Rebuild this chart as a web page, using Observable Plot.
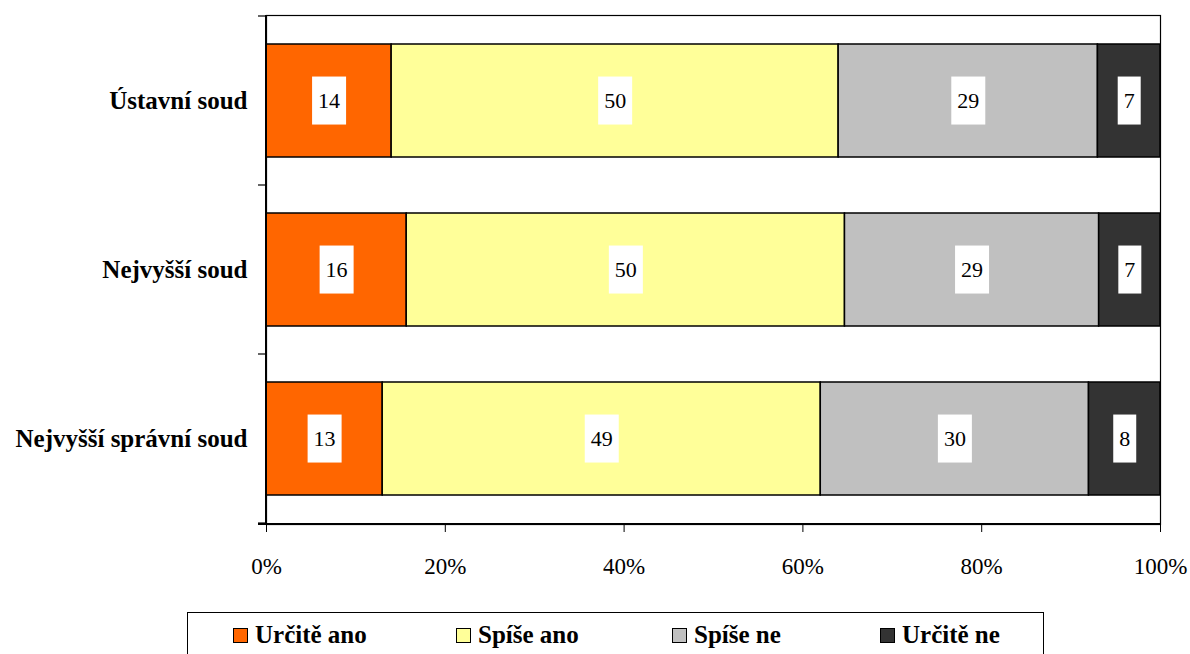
<!DOCTYPE html>
<html>
<head>
<meta charset="utf-8">
<script src="https://cdn.jsdelivr.net/npm/d3@7"></script>
<script src="https://cdn.jsdelivr.net/npm/@observablehq/plot@0.6"></script>
<style>
  html, body { margin: 0; padding: 0; background: #fff; }
  body { width: 1190px; height: 654px; overflow: hidden; }
  #chart svg { display: block; }
  #legend { position: relative; margin-left: 187px; margin-top: 12px; width: 857px; height: 46px; border: 1.5px solid #000; box-sizing: border-box; }
  .item { position: absolute; top: 8px; display: flex; align-items: center; }
  .sw { width: 13px; height: 13px; border: 1.5px solid #000; margin-right: 7px; }
</style>
</head>
<body style="font-family: 'Liberation Serif', serif;">
<div id="chart"></div>
<div id="legend" style="font-family: 'Liberation Serif', serif;"></div>
<script>
const courts = ["Ústavní soud", "Nejvyšší soud", "Nejvyšší správní soud"];
const answers = ["Určitě ano", "Spíše ano", "Spíše ne", "Určitě ne"];
const colors = ["#FF6600", "#FFFF99", "#C0C0C0", "#333333"];
const vUrciteAno = [14, 16, 13];
const vSpiseAno = [50, 50, 49];
const vSpiseNe = [29, 29, 30];
const vUrciteNe = [7, 7, 8];
const xTicks = [0, 0.2, 0.4, 0.6, 0.8, 1];

const series = [vUrciteAno, vSpiseAno, vSpiseNe, vUrciteNe];
const data = [];
courts.forEach((c, i) => answers.forEach((a, j) => data.push({court: c, answer: a, value: series[j][i]})));

const FONT = "'Liberation Serif', serif";
const W = 1190, H = 600, mT = 15, mB = H - 524, mL = 266, mR = 30;

const stackOpts = {x: "value", y: "court", z: "answer", order: answers, offset: "normalize"};

const chart = Plot.plot({
  width: W, height: H,
  marginTop: mT, marginBottom: mB, marginLeft: mL, marginRight: mR,
  style: "font-family: 'Liberation Serif', serif; font-size: 22px; color: #000; background: #fff;",
  x: {domain: [0, 1], ticks: xTicks, tickFormat: d => Math.round(d * 100) + "%", label: null},
  y: {domain: courts, paddingInner: 0.33, paddingOuter: 0.165, label: null},
  color: {domain: answers, range: colors},
  marks: [
    Plot.frame({stroke: "#000", strokeWidth: 1.2}),
    Plot.barX(data, Plot.stackX({...stackOpts, fill: "answer", stroke: "#000", strokeWidth: 1.5})),
    Plot.text(data, Plot.stackX({...stackOpts, text: d => String(d.value), fill: "#000", fontSize: 22, fontFamily: FONT, className: "vlabel"})),
    Plot.axisX({ticks: xTicks, tickFormat: d => Math.round(d * 100) + "%", tickSize: 8, tickPadding: 25, fontSize: 23, fontFamily: FONT, label: null, stroke: "#000"}),
    Plot.axisY({tickSize: 0, tickPadding: 19, fontSize: 25, fontFamily: FONT, fontWeight: "bold", label: null})
  ]
});

document.getElementById("chart").appendChild(chart);

const svg = d3.select(chart);

// white boxes behind value labels
svg.selectAll("g.vlabel text").each(function() {
  const b = this.getBBox();
  d3.select(this.parentNode).insert("rect", () => this)
    .attr("x", b.x - 6).attr("y", b.y + b.height / 2 - 24)
    .attr("width", b.width + 12).attr("height", 48)
    .attr("fill", "#fff")
    .attr("transform", this.getAttribute("transform"));
});

// y-axis tick marks at band boundaries
const ys = chart.scale("y");
const step = ys.step, bw = ys.bandwidth;
const bounds = courts.map(c => ys.apply(c) - (step - bw) / 2);
bounds.push(ys.apply(courts[courts.length - 1]) + bw + (step - bw) / 2);
const x0 = chart.scale("x").apply(0);
svg.append("g").selectAll("line").data(bounds).join("line")
  .attr("x1", x0 - 8).attr("x2", x0).attr("y1", d => d).attr("y2", d => d)
  .attr("stroke", "#000").attr("stroke-width", 1.2);
svg.append("line").attr("x1", x0).attr("x2", x0).attr("y1", mT).attr("y2", H - mB).attr("stroke", "#000").attr("stroke-width", 2);
svg.append("line").attr("x1", x0 - 8).attr("x2", W - mR).attr("y1", H - mB).attr("y2", H - mB).attr("stroke", "#000").attr("stroke-width", 2);

// legend
const lefts = [45, 268, 484, 692];
const leg = d3.select("#legend");
answers.forEach((a, i) => {
  const it = leg.append("div").attr("class", "item").style("left", lefts[i] + "px");
  it.append("div").attr("class", "sw").style("background", colors[i]);
  it.append("span").text(a)
    .attr("style", "font-family: 'Liberation Serif', serif; font-weight: bold; font-size: 25px;");
});
</script>
</body>
</html>
